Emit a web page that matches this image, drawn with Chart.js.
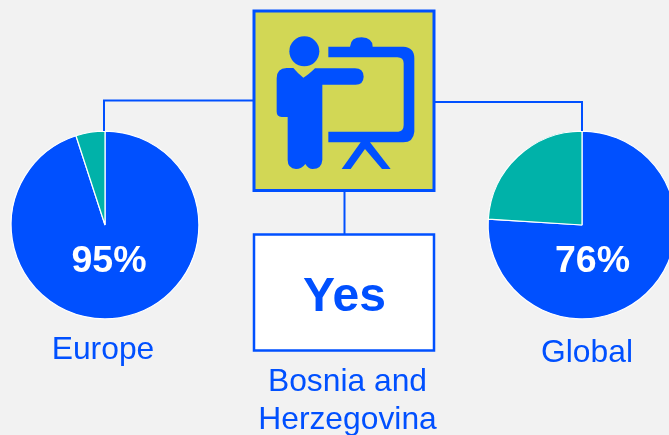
<!DOCTYPE html>
<html>
<head>
<meta charset="utf-8">
<script src="https://cdn.jsdelivr.net/npm/chart.js@4"></script>
<style>
html,body{margin:0;padding:0;width:669px;height:435px;overflow:hidden;background:#f2f2f2}
canvas,svg{position:absolute}
#c1{left:4.5px;top:125px}
#c2{left:481.5px;top:125px}
#ov{left:0;top:0}
text{font-family:"Liberation Sans",Arial,sans-serif;fill:#0050ff}
</style>
</head>
<body>
<canvas id="c1" width="200" height="200" style="width:200px;height:200px"></canvas>
<canvas id="c2" width="200" height="200" style="width:200px;height:200px"></canvas>
<svg id="ov" width="669" height="435" viewBox="0 0 669 435">
  <g fill="none" stroke="#0050ff" stroke-width="2">
    <path d="M254 100.500H104V131"/>
    <path d="M434 102H582V131"/>
    <path d="M344.500 191V234"/>
  </g>
  <rect x="254" y="11" width="180" height="179.500" fill="#d2d755" stroke="#0050ff" stroke-width="3"/>
  <rect x="254" y="234.500" width="180" height="116" fill="#ffffff" stroke="#0050ff" stroke-width="2.500"/>
  <g transform="translate(240,0) scale(0.33333)" fill="#0050ff">
    <circle cx="193" cy="154" r="45"/>
    <path d="M110,235 Q110,205 140,204 L160,204 Q175,222 190,233 Q205,225 225,205 L345,205 Q370,205 371,230 Q370,255 345,254 L247,254 L247,480 Q245,507 218,507 Q205,507 196,492 Q185,507 168,507 Q143,505 143,480 L143,351 L125,351 Q110,350 110,335 Z"/>
    <path d="M265,140 L330,140 Q332,112 365,112 Q398,114 398,140 L490,140 Q523,142 523,175 L523,395 Q520,427 490,427 L390,427 L452,507 L426,507 L375,447 L332,507 L305,507 L362,427 L265,427 L265,395 L475,395 Q491,393 491,375 L491,190 Q491,172 472,172 L265,172 Z"/>
  </g>
  <text id="t1" x="109" y="271.500" text-anchor="middle" font-size="37.500" font-weight="bold" style="fill:#fff"></text>
  <text id="t2" x="592.500" y="271.500" text-anchor="middle" font-size="37.500" font-weight="bold" style="fill:#fff"></text>
  <text id="n1" x="103" y="359" text-anchor="middle" font-size="31.800"></text>
  <text id="n2" x="587" y="362" text-anchor="middle" font-size="31.800"></text>
  <text id="yes" x="344.500" y="310.500" text-anchor="middle" font-size="48" font-weight="bold"></text>
  <text id="b1" x="347.500" y="391" text-anchor="middle" font-size="31.800"></text>
  <text id="b2" x="347.500" y="429" text-anchor="middle" font-size="31.800"></text>
</svg>
<script>
const sliceLabels = ["Yes", "No"];
const europeValues = [95, 5];
const globalValues = [76, 24];
const regionNames = ["Europe", "Global"];
const centerAnswer = "Yes";
const centerCountry = ["Bosnia and", "Herzegovina"];
const sliceColors = ["#0050ff", "#00b2a9"];

function pie(id, values) {
  new Chart(document.getElementById(id), {
    type: "pie",
    data: {
      labels: sliceLabels,
      datasets: [{ data: values, backgroundColor: sliceColors, borderColor: "#ffffff", borderWidth: 1.2 }]
    },
    options: {
      responsive: false,
      animation: false,
      layout: { padding: 5.5 },
      plugins: { legend: { display: false }, tooltip: { enabled: false } }
    }
  });
}
pie("c1", europeValues);
pie("c2", globalValues);
document.getElementById("t1").textContent = europeValues[0] + "%";
document.getElementById("t2").textContent = globalValues[0] + "%";
document.getElementById("n1").textContent = regionNames[0];
document.getElementById("n2").textContent = regionNames[1];
document.getElementById("yes").textContent = centerAnswer;
document.getElementById("b1").textContent = centerCountry[0];
document.getElementById("b2").textContent = centerCountry[1];
</script>
</body>
</html>
